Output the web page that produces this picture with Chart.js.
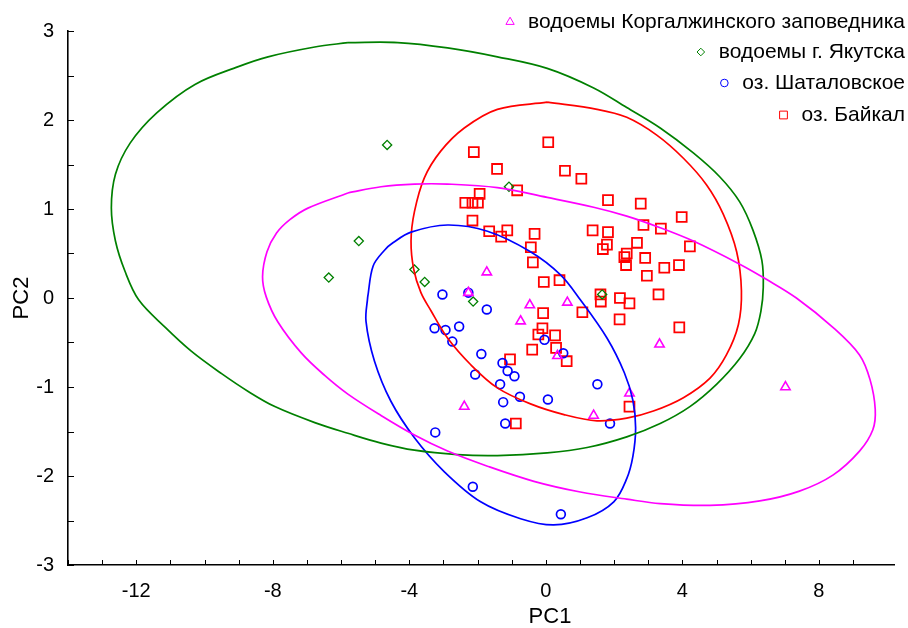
<!DOCTYPE html>
<html>
<head>
<meta charset="utf-8">
<script src="https://cdn.jsdelivr.net/npm/chart.js@4.4.1/dist/chart.umd.min.js"></script>
<style>
  html, body { margin: 0; padding: 0; background: #fff; }
</style>
</head>
<body>
<canvas id="pca" width="908" height="628"></canvas>
<script>
// group names and colours
const groupNames = ['водоемы Коргалжинского заповедника', 'водоемы г. Якутска', 'оз. Шаталовское', 'оз. Байкал'];
const groupColors = ['#ff00ff', '#008000', '#0000ff', '#ff0000'];
const groupStyles = ['triangle', 'rectRot', 'circle', 'rect'];

// axis ticks with labels
const xLabelTicks = [-12, -8, -4, 0, 4, 8];
const yLabelTicks = [-3, -2, -1, 0, 1, 2, 3];

// points (PC1, PC2)
const korgX = [-1.73, -2.27, -0.47, 0.63, -0.74, 0.34, 3.33, 2.45, -2.39, 1.40, 7.02];
const korgY = [0.29, 0.06, -0.08, -0.05, -0.26, -0.65, -0.52, -1.07, -1.22, -1.32, -1.00];

const yakX = [-4.65, -5.48, -6.36, -3.85, -3.55, -1.08, -2.13, 1.65];
const yakY = [1.72, 0.64, 0.23, 0.32, 0.18, 1.25, -0.04, 0.04];

const shatX = [-3.03, -2.27, -1.73, -3.26, -2.94, -2.54, -2.74, -0.04, -1.89, -1.27, 0.51, -2.07,
  -1.12, -0.92, -1.34, 1.51, -0.76, 0.06, -1.25, -1.19, 1.88, -3.24, -2.14, 0.44];
const shatY = [0.04, 0.06, -0.13, -0.34, -0.36, -0.32, -0.49, -0.47, -0.63, -0.73, -0.62, -0.86,
  -0.82, -0.88, -0.97, -0.97, -1.11, -1.14, -1.17, -1.41, -1.41, -1.51, -2.12, -2.43];

const baikX = [0.07, -2.11, -1.43, 0.56, 1.04, -0.84, -1.94, -2.36, -2.15, -1.99, 1.82, 2.78, 3.98,
  -2.15, 2.86, 3.37, -1.66, -1.13, -1.31, -0.33, 1.37, 1.82, 2.67, 4.22, -0.44, 1.79, 1.67, 2.37,
  2.30, 2.91, -0.38, 2.35, 3.90, 3.47, 2.96, 0.40, -0.06, 1.60, 3.30, 1.61, 2.17, 2.45, -0.08,
  1.07, 2.16, 3.91, -0.10, -0.22, 0.27, 0.30, -0.40, -1.05, 0.61, 2.45, -0.88];
const baikY = [1.75, 1.64, 1.45, 1.43, 1.34, 1.21, 1.17, 1.07, 1.07, 1.07, 1.10, 1.06, 0.91,
  0.87, 0.82, 0.78, 0.75, 0.76, 0.69, 0.72, 0.76, 0.74, 0.62, 0.58, 0.57, 0.60, 0.55, 0.50,
  0.46, 0.45, 0.40, 0.37, 0.37, 0.34, 0.25, 0.20, 0.18, 0.04, 0.04, -0.04, 0.00, -0.06, -0.17,
  -0.16, -0.24, -0.33, -0.34, -0.41, -0.42, -0.56, -0.58, -0.69, -0.71, -1.22, -1.41];

// ellipse outlines
const korgEllX = [-5.80, -4.83, -3.85, -2.88, -1.42, 0.04, 1.40, 2.37, 3.35, 4.32, 5.68, 6.46, 7.34,
  8.41, 9.19, 9.50, 9.65, 9.58, 9.19, 8.41, 7.43, 6.27, 4.81, 3.35, 2.37, 1.01, -0.35, -1.71,
  -2.88, -3.85, -4.83, -5.80, -6.48, -7.16, -7.85, -8.19, -8.30, -8.17, -7.89, -7.50, -6.97, -5.80];
const korgEllY = [1.18, 1.25, 1.28, 1.28, 1.24, 1.13, 1.02, 0.92, 0.79, 0.64, 0.38, 0.21, 0.00,
  -0.33, -0.64, -0.92, -1.25, -1.48, -1.72, -1.99, -2.17, -2.28, -2.33, -2.31, -2.26, -2.18,
  -2.06, -1.89, -1.72, -1.54, -1.32, -1.08, -0.87, -0.62, -0.27, 0.01, 0.24, 0.52, 0.73, 0.88, 1.01, 1.18];

const yakEllX = [-5.80, -4.34, -2.88, -1.42, 0.04, 1.40, 2.37, 3.35, 4.32, 5.10, 5.68, 6.07, 6.33,
  6.37, 6.30, 6.12, 5.68, 5.00, 4.22, 3.35, 2.37, 1.21, 0.04, -1.42, -2.59, -3.85, -4.83, -5.80,
  -6.77, -7.94, -8.72, -9.50, -10.38, -11.15, -11.93, -12.33, -12.61, -12.73, -12.61, -12.18,
  -11.40, -10.28, -9.01, -8.14, -6.77, -5.80];
const yakEllY = [2.87, 2.87, 2.81, 2.71, 2.58, 2.36, 2.14, 1.91, 1.63, 1.36, 1.08, 0.76, 0.42,
  0.12, -0.15, -0.40, -0.68, -0.97, -1.22, -1.41, -1.56, -1.68, -1.74, -1.77, -1.76, -1.71, -1.63,
  -1.52, -1.40, -1.22, -1.05, -0.85, -0.60, -0.33, -0.02, 0.30, 0.64, 1.01, 1.39, 1.74, 2.08, 2.40,
  2.60, 2.71, 2.82, 2.87];

const shatEllX = [-5.22, -5.06, -4.72, -4.48, -3.95, -2.88, -1.71, -0.45, 0.43, 1.01, 1.79, 2.30,
  2.55, 2.63, 2.55, 2.37, 1.99, 1.21, 0.23, -0.74, -1.91, -2.98, -3.85, -4.54, -5.02, -5.27, -5.22];
const shatEllY = [0.01, 0.36, 0.54, 0.62, 0.74, 0.82, 0.75, 0.52, 0.26, -0.02, -0.45, -0.84,
  -1.15, -1.46, -1.78, -2.03, -2.29, -2.47, -2.55, -2.48, -2.29, -1.95, -1.57, -1.16, -0.71, -0.26, 0.01];

const baikEllX = [0.04, 1.50, 2.37, 3.25, 4.03, 4.71, 5.20, 5.59, 5.73, 5.64, 5.29, 4.81, 4.03,
  3.15, 2.37, 1.50, 0.53, -0.45, -1.42, -2.20, -2.88, -3.37, -3.66, -3.87, -3.95, -3.85, -3.56,
  -3.08, -2.39, -1.42, 0.04];
const baikEllY = [2.20, 2.12, 2.03, 1.83, 1.57, 1.27, 0.94, 0.52, 0.08, -0.30, -0.64, -0.90, -1.12,
  -1.27, -1.35, -1.38, -1.31, -1.19, -1.01, -0.75, -0.45, -0.14, 0.06, 0.32, 0.64, 0.97, 1.35,
  1.65, 1.91, 2.12, 2.20];

function zip(xs, ys) {
  return xs.map((x, i) => ({ x: x, y: ys[i] }));
}

const pointSets = [[korgX, korgY], [yakX, yakY], [shatX, shatY], [baikX, baikY]];
const ellipseSets = [[korgEllX, korgEllY], [yakEllX, yakEllY], [shatEllX, shatEllY], [baikEllX, baikEllY]];
const pointRadius = [5.4, 4.6, 4.4, 7];
const pointBorder = [1.6, 1.3, 1.7, 1.8];

const datasets = [];
ellipseSets.forEach((s, i) => {
  datasets.push({
    label: groupNames[i] + ' (эллипс)',
    data: zip(s[0], s[1]),
    showLine: true,
    fill: false,
    tension: 0.35,
    pointRadius: 0,
    borderColor: groupColors[i],
    borderWidth: 1.7,
    isEllipse: true
  });
});
pointSets.forEach((s, i) => {
  datasets.push({
    label: groupNames[i],
    data: zip(s[0], s[1]),
    pointStyle: groupStyles[i],
    pointRadius: pointRadius[i],
    pointBorderWidth: pointBorder[i],
    borderColor: groupColors[i],
    backgroundColor: 'rgba(0,0,0,0)',
    pointBackgroundColor: 'rgba(0,0,0,0)'
  });
});

// tick marks point into the plot, as in the original
const inwardTicks = {
  id: 'inwardTicks',
  afterDraw(chart) {
    const ctx = chart.ctx;
    const xs = chart.scales.x, ys = chart.scales.y;
    ctx.save();
    ctx.strokeStyle = '#000';
    ctx.lineWidth = 1;
    xs.ticks.forEach(t => {
      if (Math.abs(t.value - Math.round(t.value)) > 1e-6) return;
      const px = Math.round(xs.getPixelForValue(t.value)) + 0.5;
      ctx.beginPath();
      ctx.moveTo(px, xs.top);
      ctx.lineTo(px, xs.top - 5);
      ctx.stroke();
    });
    ys.ticks.forEach(t => {
      const py = Math.round(ys.getPixelForValue(t.value)) + 0.5;
      ctx.beginPath();
      ctx.moveTo(ys.right, py);
      ctx.lineTo(ys.right + 6, py);
      ctx.stroke();
    });
    ctx.restore();
  }
};

// right-aligned legend in the upper right corner, plus the PC1 title
const cornerLegend = {
  id: 'cornerLegend',
  afterDraw(chart) {
    const ctx = chart.ctx;
    const rows = [22, 52, 83, 115];
    const right = 905;
    ctx.save();
    ctx.font = '21px "Liberation Sans", Arial, sans-serif';
    ctx.textAlign = 'right';
    ctx.textBaseline = 'middle';
    chart.data.datasets.filter(d => !d.isEllipse).forEach((d, i) => {
      const y = rows[i];
      ctx.fillStyle = '#000';
      ctx.fillText(d.label, right, y);
      const w = ctx.measureText(d.label).width;
      const sx = right - w - 18;
      ctx.strokeStyle = d.borderColor;
      ctx.fillStyle = 'rgba(0,0,0,0)';
      Chart.helpers.drawPoint(ctx, {
        pointStyle: d.pointStyle,
        radius: d.pointStyle === 'rect' ? 5.5 : (d.pointStyle === 'triangle' ? 4.8 : 3.8),
        borderWidth: 1.6,
        rotation: 0
      }, sx, y);
    });
    // x axis title sits under PC1 = 0 in the original
    ctx.font = '22px "Liberation Sans", Arial, sans-serif';
    ctx.textAlign = 'center';
    ctx.fillStyle = '#000';
    ctx.fillText('PC1', 550, 617);
    ctx.restore();
  }
};

const tickFont = { family: '"Liberation Sans", Arial, sans-serif', size: 20 };
const titleFont = { family: '"Liberation Sans", Arial, sans-serif', size: 22 };

new Chart(document.getElementById('pca'), {
  type: 'scatter',
  data: { datasets: datasets },
  plugins: [inwardTicks, cornerLegend],
  options: {
    responsive: false,
    animation: false,
    devicePixelRatio: 1,
    layout: { padding: { left: 0, right: 11, top: 31, bottom: 0 } },
    plugins: {
      legend: { display: false },
      tooltip: { enabled: false }
    },
    scales: {
      x: {
        type: 'linear',
        min: -14,
        max: 10.2,
        afterFit: s => { s.height = 63; },
        grid: { display: true, drawOnChartArea: false, drawTicks: false },
        border: { display: true, color: '#000', width: 1.6 },
        ticks: {
          stepSize: 1,
          autoSkip: false,
          maxRotation: 0,
          padding: 14,
          color: '#000',
          font: tickFont,
          callback: v => xLabelTicks.includes(v) ? String(v) : ''
        },
        title: { display: false }
      },
      y: {
        type: 'linear',
        min: -3,
        max: 3,
        afterFit: s => { s.width = 68; },
        grid: { display: true, drawOnChartArea: false, drawTicks: false },
        border: { display: true, color: '#000', width: 1.6 },
        ticks: {
          stepSize: 0.5,
          autoSkip: false,
          padding: 14,
          color: '#000',
          font: tickFont,
          callback: v => yLabelTicks.includes(v) ? String(v) : ''
        },
        title: { display: true, text: 'PC2', color: '#000', font: titleFont, padding: { top: 9, bottom: 0 } }
      }
    }
  }
});
</script>
</body>
</html>
